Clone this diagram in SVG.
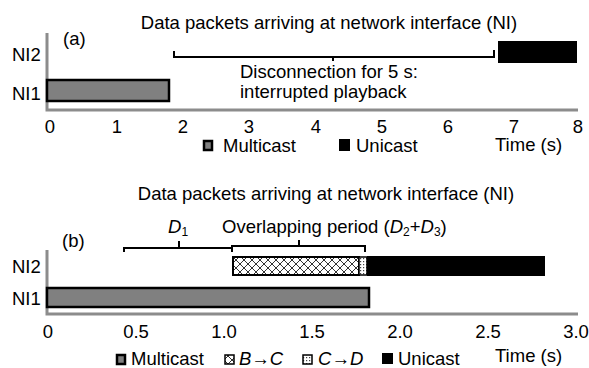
<svg xmlns="http://www.w3.org/2000/svg" width="589" height="368" viewBox="0 0 589 368">
<defs>
<pattern id="hatch" width="8" height="8" patternUnits="userSpaceOnUse">
<rect width="8" height="8" fill="#fff"/>
<path d="M0 0L8 8M8 0L0 8" stroke="#333" stroke-width="1"/>
</pattern>
<pattern id="dots" width="3" height="3" patternUnits="userSpaceOnUse">
<rect width="3" height="3" fill="#fff"/>
<rect x="0" y="0" width="1.2" height="1.2" fill="#444"/>
</pattern>
<style>
text{font-family:"Liberation Sans",Arial,sans-serif;font-size:18.5px;fill:#000}
.it{font-style:italic}
.sub{font-size:12px;font-style:normal}
.ax{stroke:#8c8c8c;stroke-width:3;fill:none}
.br{stroke:#000;stroke-width:2;fill:none}
.mc{fill:#808080;stroke:#000;stroke-width:2.5}
.uc{fill:#000}
.tk{text-anchor:middle}
</style>
</defs>

<g id="chart-a">
<text x="329" y="29" class="tk">Data packets arriving at network interface (NI)</text>
<text x="63" y="45">(a)</text>
<path class="ax" d="M47 33V110H578"/>
<text x="12" y="61">NI2</text>
<text x="12" y="100">NI1</text>
<g id="a-ni1-multicast"><rect class="mc" x="47" y="80" width="122" height="21"/></g>
<g id="a-ni2-unicast"><rect class="uc" x="498" y="41" width="79" height="22"/></g>
<path class="br" d="M174 51V57H494V50M333 57V61"/>
<text x="240" y="78">Disconnection for 5 s:</text>
<text x="240" y="98">interrupted playback</text>
<g class="tk">
<text x="50" y="133">0</text><text x="117" y="133">1</text><text x="183" y="133">2</text><text x="249" y="133">3</text><text x="316" y="133">4</text><text x="382" y="133">5</text><text x="448" y="133">6</text><text x="514" y="133">7</text><text x="578" y="133">8</text>
</g>
<g id="a-legend">
<rect x="204" y="141" width="8" height="9" class="mc" stroke-width="2"/>
<text x="223" y="152">Multicast</text>
<rect x="339" y="139" width="11" height="12" fill="#000"/>
<text x="356" y="152">Unicast</text>
<text x="495" y="151">Time (s)</text>
</g>
</g>

<g id="chart-b">
<text x="326" y="200" class="tk">Data packets arriving at network interface (NI)</text>
<text x="168" y="233"><tspan class="it">D</tspan><tspan class="sub" dy="3">1</tspan></text>
<text x="222" y="233">Overlapping period (<tspan class="it">D</tspan><tspan class="sub" dy="3">2</tspan><tspan dy="-3">+</tspan><tspan class="it">D</tspan><tspan class="sub" dy="3">3</tspan><tspan dy="-3">)</tspan></text>
<text x="62" y="247">(b)</text>
<path class="ax" d="M47 250V314H578"/>
<text x="12" y="273">NI2</text>
<text x="12" y="305">NI1</text>
<path class="br" d="M124 252V248H232V252M179 248V241M232 248V246H365V252M299 246V240"/>
<g id="b-ni2-btoc"><rect x="233" y="257" width="126" height="18" fill="url(#hatch)" stroke="#000" stroke-width="2"/></g>
<g id="b-ni2-ctod"><rect x="359" y="257" width="8" height="18" fill="url(#dots)" stroke="#000" stroke-width="1.5"/></g>
<g id="b-ni2-unicast"><rect class="uc" x="367" y="256" width="178" height="20"/></g>
<g id="b-ni1-multicast"><rect class="mc" x="47" y="288" width="322" height="19"/></g>
<g class="tk">
<text x="48" y="338">0</text><text x="136" y="338">0.5</text><text x="224" y="338">1.0</text><text x="312" y="338">1.5</text><text x="400" y="338">2.0</text><text x="488" y="338">2.5</text><text x="576" y="338">3.0</text>
</g>
<g id="b-legend">
<rect x="117" y="355" width="8" height="9" class="mc" stroke-width="2"/>
<text x="131" y="365">Multicast</text>
<rect x="225" y="355" width="9" height="9" fill="url(#hatch)" stroke="#000" stroke-width="1.5"/>
<text x="239" y="365"><tspan class="it">B</tspan>→<tspan class="it">C</tspan></text>
<rect x="303" y="355" width="9" height="9" fill="url(#dots)" stroke="#000" stroke-width="1.5"/>
<text x="318" y="365"><tspan class="it">C</tspan>→<tspan class="it">D</tspan></text>
<rect x="382" y="353" width="11" height="11" fill="#000"/>
<text x="398" y="365">Unicast</text>
<text x="495" y="362">Time (s)</text>
</g>
</g>
</svg>
